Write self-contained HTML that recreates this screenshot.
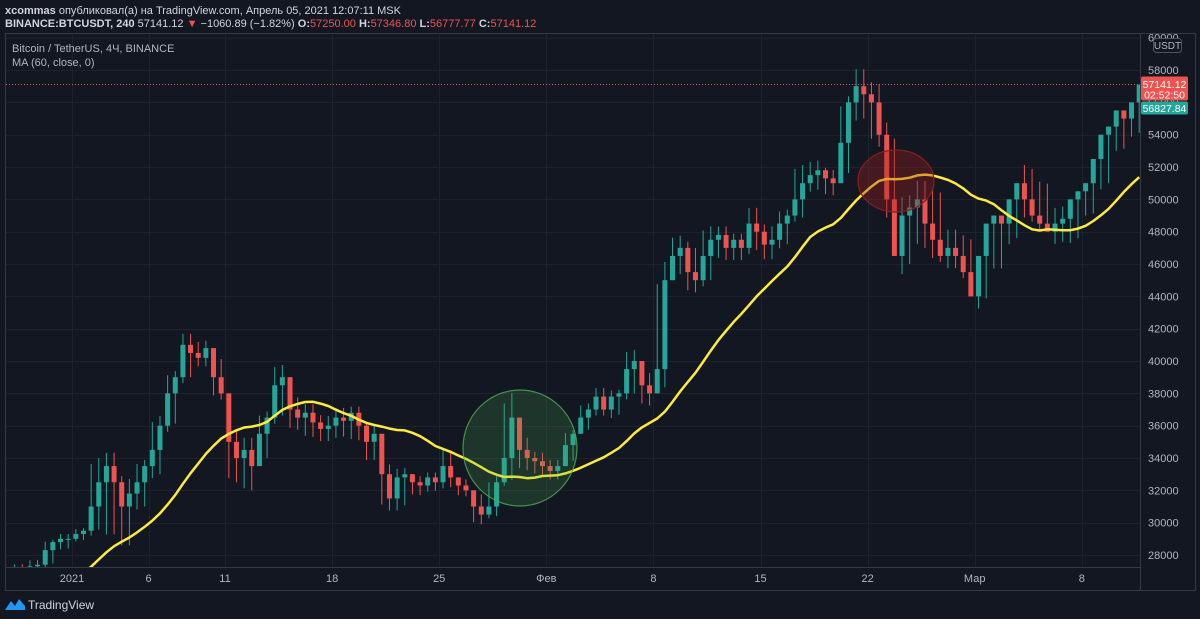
<!DOCTYPE html>
<html><head><meta charset="utf-8">
<style>
html,body{margin:0;padding:0;background:#131722;width:1200px;height:619px;overflow:hidden;font-family:"Liberation Sans","DejaVu Sans",sans-serif;}
svg{display:block}
</style></head>
<body>
<svg id="chart" width="1200" height="619" viewBox="0 0 1200 619">
  <rect x="0" y="0" width="1200" height="619" fill="#131722"/>
  <text x="5" y="14" font-size="11" fill="#d1d4dc"><tspan font-weight="bold">xcommas</tspan> опубликовал(а) на TradingView.com, Апрель 05, 2021 12:07:11 MSK</text>
  <text x="5" y="27" font-size="11" fill="#d1d4dc"><tspan font-weight="bold">BINANCE:BTCUSDT, 240</tspan> 57141.12 <tspan fill="#ef5350">▼</tspan> −1060.89 (−1.82%) <tspan font-weight="bold">O:</tspan><tspan fill="#ef5350">57250.00</tspan> <tspan font-weight="bold">H:</tspan><tspan fill="#ef5350">57346.80</tspan> <tspan font-weight="bold">L:</tspan><tspan fill="#ef5350">56777.77</tspan> <tspan font-weight="bold">C:</tspan><tspan fill="#ef5350">57141.12</tspan></text>
  <g id="grid"></g>
  <g id="plot" clip-path="url(#clip)"></g>
  <defs><clipPath id="clip"><rect x="6" y="34" width="1134" height="533"/></clipPath></defs>
  <rect x="5.5" y="33.5" width="1190" height="557" fill="none" stroke="#363a45"/>
  <line x1="1140.5" y1="33" x2="1140.5" y2="590" stroke="#363a45"/>
  <line x1="5" y1="567.5" x2="1140" y2="567.5" stroke="#363a45"/>
  <g id="axes"></g>
  <text x="12" y="52" font-size="11" fill="#b2b5be">Bitcoin / TetherUS, 4Ч, BINANCE</text>
  <text x="12" y="66" font-size="11" fill="#b2b5be">MA (60, close, 0)</text>
  <g>
    <rect x="1153.5" y="38.5" width="28" height="14" rx="3" fill="#131722" stroke="#50535e"/>
    <text x="1167.5" y="49" font-size="10" fill="#b2b5be" text-anchor="middle">USDT</text>
  </g>
  <g id="labels"></g>
  <g>
    <path d="M5 610 L11 601 L15 606 L19 599 L25 606 L25 610 Z" fill="#2196f3"/>
    <text x="28" y="609" font-size="12" fill="#d1d4dc">TradingView</text>
  </g>
</svg>
<script>
// ---- data (prices in thousands USDT, 12h candles from Dec 28) ----
const preCloses = [22.8,23.2,23.5,23.8,23.6,23.0,23.3,23.5,23.8,24.5,23.8,23.5,24.6,25.0,25.5,26.5,26.3,26.5,26.8,27.0];
const closes = [
27.2,27.0, 27.3,27.4, 28.3,28.8, 29.0,29.0, 29.3,29.5, 31.0,32.5, 33.5,32.5, 31.0,31.8, 32.5,33.5, 34.5,36.0,
38.0,39.0, 41.0,40.5, 40.2,40.8, 39.0,38.0, 35.0,34.0, 34.5,33.5, 35.5,36.5, 38.5,39.0, 37.0,36.5, 36.8,36.2,
35.8,36.0, 36.5,36.3, 36.8,36.0, 35.0,35.5, 33.0,31.5, 32.8,33.0, 32.5,32.3, 32.8,32.5, 33.5,32.8, 32.3,32.0,
31.0,30.5, 31.0,32.5, 34.0,36.5, 34.5,34.0, 33.8,33.5, 33.2,33.5, 34.8,35.5, 36.5,37.0, 37.8,37.0, 37.8,38.0,
39.5,40.0, 38.5,38.0, 39.5,45.0, 46.5,47.0, 45.5,45.0, 46.5,47.5, 47.8,47.0, 47.5,47.0, 48.5,48.0, 47.2,47.5,
48.5,49.0, 50.0,51.0, 51.5,51.8, 51.3,51.0, 53.5,56.0, 57.0,56.5, 56.0,54.0, 50.0,46.5, 49.0,49.5, 50.0,48.5,
47.5,46.5, 47.0,46.5, 45.5,44.0, 46.5,48.5, 49.0,48.5, 50.0,51.0, 50.0,49.0, 48.5,48.0, 48.5,48.8, 50.0,50.5,
51.0,52.5, 54.0,54.5, 55.5,55.0, 56.0,57.1];
const dayHigh = [27.5,27.8,29.0,29.4,29.7,34.5,34.6,33.0,34.0,36.8,39.5,41.9,41.4,40.5,36.0,35.5,37.0,40.0,38.0,37.5,
36.8,37.3,37.3,36.3,33.8,33.5,33.0,33.2,34.8,32.8,32.0,33.0,38.5,35.5,34.5,34.0,35.8,37.5,38.5,38.3,40.9,39.5,
46.5,48.0,47.5,48.6,48.5,48.0,49.8,48.6,49.5,52.5,52.6,52.0,56.5,58.4,57.5,55.0,50.5,51.5,51.4,48.5,48.2,46.5,
49.0,50.0,52.5,51.8,49.8,49.5,51.0,52.2,54.8,55.8,57.5];
const dayLow = [26.8,26.9,27.2,28.2,28.8,29.1,28.2,27.8,30.5,32.5,35.5,38.5,39.5,37.5,32.0,31.5,33.5,36.0,35.5,35.0,
34.8,35.0,34.8,33.5,30.5,30.5,31.5,31.8,32.0,31.5,29.7,30.2,32.2,33.0,32.8,32.5,33.5,35.5,36.5,36.3,37.5,37.0,
38.0,45.0,44.0,44.5,46.0,46.0,46.5,46.0,46.8,48.5,50.3,50.0,51.0,54.5,53.0,48.5,45.0,46.5,46.0,45.5,45.0,43.0,
44.8,46.8,48.5,48.0,47.0,46.8,48.5,50.0,52.5,53.5,54.5];
const priceTicks = [28,30,32,34,36,38,40,42,44,46,48,50,52,54,56,58,60];
const dateLabels = ["2021","6","11","18","25","Фев","8","15","22","Мар","8"];
const dateDays = [4,9,14,21,28,35,42,49,56,63,70]; // days after Dec 28
const lastPrice = 57.14112;

// ---- axes ----
const X0 = 10.8, PX_PER_DAY = 15.3;
function xDay(d){ return X0 + d*PX_PER_DAY; }
function xSlot(i){ return X0 + (i+0.5)*PX_PER_DAY/2; }
function yP(p){ return 555 - (p-28)/2*32.33; }
const NS='http://www.w3.org/2000/svg';
function mk(tag, attrs, parent){ const e=document.createElementNS(NS,tag); for(const k in attrs) e.setAttribute(k,attrs[k]); parent.appendChild(e); return e; }

const grid=document.getElementById('grid'), plot=document.getElementById('plot'), axes=document.getElementById('axes'), labels=document.getElementById('labels');
priceTicks.forEach(p=>{
  const y=Math.round(yP(p))+0.5;
  const gl=mk('line',{x1:6,x2:1140,y1:y,y2:y,stroke:'#1e222d'},grid);
  
  
  const t=mk('text',{x:1148,y:yP(p)+4,'font-size':11,fill:'#b2b5be'},axes);
  t.textContent=String(p*1000);
  
  
});
dateDays.forEach((d,i)=>{
  const x=Math.round(xDay(d))+0.5;
  const gl=mk('line',{x1:x,x2:x,y1:34,y2:567,stroke:'#1e222d'},grid);
  
  
  const t=mk('text',{x:xDay(d),y:582,'font-size':11,fill:'#b2b5be','text-anchor':'middle'},axes);
  t.textContent=dateLabels[i];
  
  
});

// ---- candles ----
for(let i=0;i<closes.length;i++){
  const o = i===0 ? preCloses[preCloses.length-1] : closes[i-1];
  const c = closes[i];
  const d = Math.floor(i/2);
  const top=Math.max(o,c), bot=Math.min(o,c);
  const hi = top + Math.max(0,(dayHigh[d]-top))*0.75;
  const lo = bot - Math.max(0,(bot-dayLow[d]))*0.75;
  const up = c>=o, col = up ? '#26a69a' : '#ef5350';
  const x=xSlot(i);
  const w=mk('line',{x1:x,x2:x,y1:yP(hi),y2:yP(lo),stroke:col,'stroke-width':1},plot);
  
  
  const b=mk('rect',{x:x-2.5,y:yP(top),width:5,height:Math.max(1,yP(bot)-yP(top)),fill:col},plot);
  
  
}

// ---- MA(60 x 4h) = 20 x 12h ----
const all = preCloses.concat(closes);
let pts=[];
for(let i=0;i<closes.length;i++){
  const j=i+preCloses.length;
  let s=0; for(let k=j-19;k<=j;k++) s+=all[k];
  pts.push(xSlot(i).toFixed(1)+','+yP(s/20).toFixed(1));
}
const ma=mk('polyline',{points:pts.join(' '),fill:'none',stroke:'#ffeb3b','stroke-width':2.5,'stroke-linejoin':'round'},plot);



// ---- annotations ----
const g=mk('ellipse',{cx:520,cy:448,rx:57,ry:58,fill:'rgba(76,175,80,0.2)',stroke:'#4caf50','stroke-width':1.2,'stroke-opacity':0.8},plot);


const r=mk('ellipse',{cx:896,cy:181,rx:38,ry:31,fill:'rgba(160,30,30,0.35)',stroke:'#8b1e1e','stroke-width':1.2},plot);



// ---- last price line & labels ----
const ly = Math.round(yP(lastPrice))+0.5;
const pl=mk('line',{x1:6,x2:1140,y1:ly,y2:ly,stroke:'#ef5350','stroke-dasharray':'1 2','stroke-width':1},labels);


const lb=mk('rect',{x:1141,y:ly-8,width:47,height:24,fill:'#ef5350',rx:2},labels);


const lt=mk('text',{x:1164.5,y:ly+3.5,'font-size':10.5,fill:'#fff','text-anchor':'middle'},labels);
lt.textContent='57141.12';


const ct=mk('text',{x:1164.5,y:ly+14,'font-size':10.5,fill:'#fff','text-anchor':'middle'},labels);
ct.textContent='02:52:50';


const mb=mk('rect',{x:1141,y:ly+17,width:47,height:13,fill:'#26a69a',rx:2},labels);


const mt=mk('text',{x:1164.5,y:ly+27.5,'font-size':10.5,fill:'#fff','text-anchor':'middle'},labels);
mt.textContent='56827.84';


</script>
</body></html>
